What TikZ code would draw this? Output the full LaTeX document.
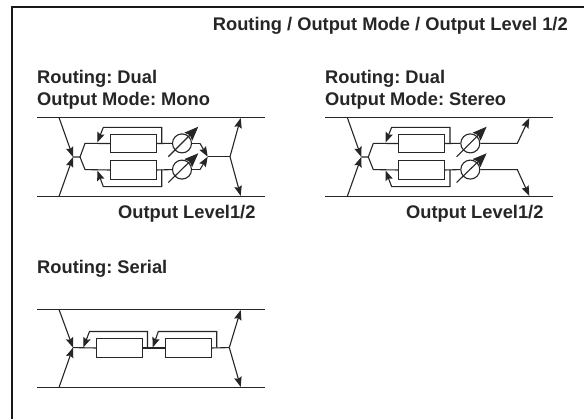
\documentclass[tikz,border=0pt]{standalone}
\usepackage{fontspec}
\setmainfont{Liberation Sans}
\frenchspacing
\usetikzlibrary{arrows.meta}
\tikzset{
  x=1pt,y=-1pt,
  bus/.style={draw=black!85,line width=1.1pt},
  wire/.style={draw=black!85,line width=1.1pt,line join=miter},
  arr/.style={wire,-{Stealth[length=10pt,width=7.5pt,inset=1.5pt]}},
  bigarr/.style={wire,-{Stealth[length=14pt,width=11pt,inset=2pt]}},
  fx/.style={draw=black!85,line width=1.1pt,fill=white,minimum width=46.5pt,minimum height=18.5pt,inner sep=0pt,outer sep=0pt},
  vol/.style={circle,draw=black!85,line width=1.1pt,fill=white,minimum size=19pt,inner sep=0pt},
  lbl/.style={font=\bfseries\fontsize{18.3}{22}\selectfont,text=black!85,anchor=base west,align=left,inner sep=0pt},
  lblb/.style={lbl,anchor=north west}
}
\newcommand{\dualcore}[2]{% #1 = x offset, #2 = prefix
  \begin{scope}[xshift=#1pt]
    \coordinate (#2tl) at (37,117.5); \coordinate (#2tr) at (265,117.5);
    \coordinate (#2bl) at (37,196.4); \coordinate (#2br) at (265,196.4);
    \draw[bus] (#2tl) -- (#2tr);
    \draw[bus] (#2bl) -- (#2br);
    \coordinate (#2it) at (59,117.5); \coordinate (#2ib) at (59,196.4);
    \coordinate (#2in) at (73,157); \coordinate (#2sp) at (80,157);
    \coordinate (#2u) at (85,143.4); \coordinate (#2l) at (85,169.6);
    \node[fx] (#2a) at (133.3,143.5) {};
    \node[fx] (#2b) at (133.3,170) {};
    \coordinate (#2ua) at (161.7,143.4); \coordinate (#2la) at (161.7,169.6);
    \coordinate (#2uf1) at (161.7,127.4); \coordinate (#2uf2) at (103.3,127.4); \coordinate (#2uf3) at (97.3,142.5);
    \coordinate (#2lf1) at (161.7,186.6); \coordinate (#2lf2) at (103.3,186.6); \coordinate (#2lf3) at (97.3,170.5);
    \draw[arr] (#2it) -- (#2in);
    \draw[arr] (#2ib) -- (#2in);
    \draw[wire] (#2in) -- (#2sp) -- (#2u) -- (#2a.west);
    \draw[wire] (#2sp) -- (#2l) -- (#2b.west);
    \draw[arr] (#2ua) -- (#2uf1) -- (#2uf2) -- (#2uf3);
    \draw[arr] (#2la) -- (#2lf1) -- (#2lf2) -- (#2lf3);
    \draw[wire] (#2a.east) -- (172,143.4);
    \draw[wire] (#2b.east) -- (172,169.6);
    \node[vol] (#2v) at (182,143.4) {};
    \node[vol] (#2w) at (182,169.6) {};
    \coordinate (#2vs) at (168.3,156.7); \coordinate (#2ve) at (198.3,126.7);
    \coordinate (#2ws) at (168.3,182.5); \coordinate (#2we) at (198.3,153.3);
    \draw[bigarr] (#2vs) -- (#2ve);
    \draw[bigarr] (#2ws) -- (#2we);
  \end{scope}}
\begin{document}
\begin{tikzpicture}
\useasboundingbox (0,0) rectangle (584,419);
\path[fill=white] (0,0) rectangle (584,419);
\coordinate (fb) at (11.8,419); \coordinate (fc) at (11.8,7.2); \coordinate (fr) at (584,7.2);
\draw[black!90,line width=1.4pt] (fb) -- (fc) -- (fr);

\node[lbl] (title) at (212.7,31) {Routing / Output Mode / Output Level 1/2};
\node[lblb] (t1) at (37,70) {Routing: Dual\\Output Mode: Mono};
\node[lblb] (t2) at (325,70) {Routing: Dual\\Output Mode: Stereo};
\node[lbl] (o1) at (118,219) {Output Level1/2};
\node[lbl] (o2) at (406,219) {Output Level1/2};
\node[lbl] (t3) at (37,274) {Routing: Serial};

% Mono
\dualcore{0}{m}
\coordinate (mo1) at (200,143.4); \coordinate (mo2) at (200,169.6);
\coordinate (mj) at (207.7,156.7); \coordinate (ms) at (230,156.7);
\coordinate (mot) at (240.7,118); \coordinate (mob) at (240.7,195.9);
\draw[wire] (mv) -- (mo1);
\draw[wire] (mw) -- (mo2);
\draw[arr] (mo1) -- (mj);
\draw[arr] (mo2) -- (mj);
\draw[wire] (mj) -- (ms);
\draw[arr] (ms) -- (mot);
\draw[arr] (ms) -- (mob);

% Stereo
\dualcore{288.3}{s}
\coordinate (so1) at (517.3,143.4); \coordinate (so2) at (517.3,169.6);
\coordinate (sot) at (529.3,118); \coordinate (sob) at (529.3,195.9);
\draw[arr] (sv) -- (so1) -- (sot);
\draw[arr] (sw) -- (so2) -- (sob);

% Serial
\coordinate (atl) at (37,309.5); \coordinate (atr) at (265,309.5);
\coordinate (abl) at (37,387.5); \coordinate (abr) at (265,387.5);
\draw[bus] (atl) -- (atr);
\draw[bus] (abl) -- (abr);
\coordinate (ait) at (59,309.5); \coordinate (aib) at (59,387.5);
\coordinate (ain) at (73,347.6); \coordinate (asp) at (229.3,347.6);
\node[fx] (a1) at (119.3,348) {};
\node[fx] (a2) at (188.3,348) {};
\coordinate (af1) at (147.5,347.6); \coordinate (af1a) at (147.5,331.5); \coordinate (af1b) at (89.5,331.5); \coordinate (af1c) at (83.3,347.5);
\coordinate (af2) at (216.7,347.6); \coordinate (af2a) at (216.7,331.5); \coordinate (af2b) at (158.3,331.5); \coordinate (af2c) at (152.7,347.5);
\coordinate (aot) at (240.7,310); \coordinate (aob) at (240.7,387);
\draw[arr] (ait) -- (ain);
\draw[arr] (aib) -- (ain);
\draw[wire] (ain) -- (a1.west);
\draw[wire] (a1.east) -- (a2.west);
\draw[wire] (a2.east) -- (asp);
\draw[arr] (af1) -- (af1a) -- (af1b) -- (af1c);
\draw[arr] (af2) -- (af2a) -- (af2b) -- (af2c);
\draw[arr] (asp) -- (aot);
\draw[arr] (asp) -- (aob);
\end{tikzpicture}
\end{document}
